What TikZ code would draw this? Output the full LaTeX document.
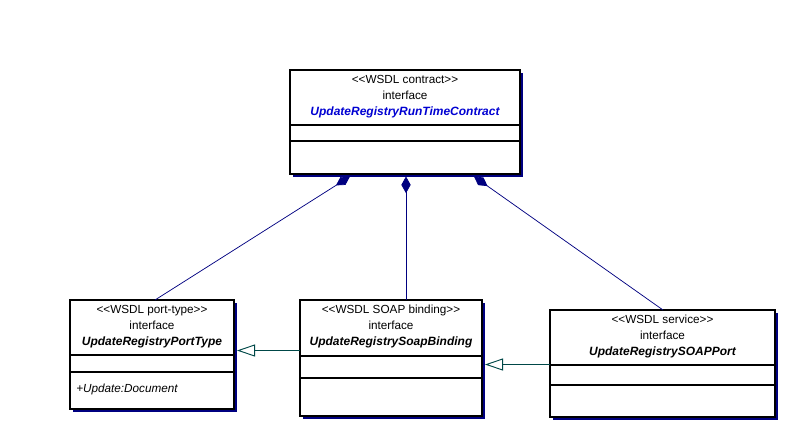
\documentclass[tikz,border=0pt]{standalone}
\usepackage{fontspec}
\setmainfont{Liberation Sans}
\usetikzlibrary{arrows.meta,shadows,calc}
\definecolor{umlnavy}{RGB}{0,0,128}
\definecolor{umlteal}{RGB}{0,72,72}
\definecolor{umlblue}{RGB}{0,0,210}

\begin{document}
\begin{tikzpicture}[x=0.75pt,y=-0.75pt,
  classbox/.style={draw=black, fill=white, line width=0.8pt, inner sep=0pt, outer sep=0pt,
    anchor=north west,
    drop shadow={shadow xshift=2pt, shadow yshift=-2pt, fill=umlnavy, opacity=1}},
  umltext/.style={font=\fontsize{8.8}{10}\selectfont, anchor=base, inner sep=0pt},
  classname/.style={umltext, font=\fontsize{9}{10}\selectfont\bfseries\itshape},
  member/.style={umltext, anchor=base west, font=\fontsize{8.8}{10}\selectfont\itshape},
  divider/.style={draw=black, line width=0.8pt},
  composition/.style={draw=umlnavy, line width=0.55pt,
    {Diamond[length=12.5pt, width=7pt, fill=umlnavy]}-},
  realizes/.style={draw=umlteal, line width=0.75pt,
    -{Triangle[open, length=13.5pt, width=9pt, fill=white, line width=0.7pt]}}
]
\useasboundingbox (0,0) rectangle (789,422);

% class boxes
\node[classbox, minimum width=172.5pt, minimum height=78pt] (contract) at (290,70) {};
\node[classbox, minimum width=123pt, minimum height=81.75pt] (porttype) at (70,300) {};
\node[classbox, minimum width=136.5pt, minimum height=87pt] (binding) at (300,300) {};
\node[classbox, minimum width=168.75pt, minimum height=80.25pt] (service) at (550,310) {};

% compartment separators
\draw[divider] ($(contract.north west)+(0,55)$) -- ($(contract.north east)+(0,55)$);
\draw[divider] ($(contract.north west)+(0,71)$) -- ($(contract.north east)+(0,71)$);
\draw[divider] ($(porttype.north west)+(0,55)$) -- ($(porttype.north east)+(0,55)$);
\draw[divider] ($(porttype.north west)+(0,72)$) -- ($(porttype.north east)+(0,72)$);
\draw[divider] ($(binding.north west)+(0,56)$) -- ($(binding.north east)+(0,56)$);
\draw[divider] ($(binding.north west)+(0,78)$) -- ($(binding.north east)+(0,78)$);
\draw[divider] ($(service.north west)+(0,55)$) -- ($(service.north east)+(0,55)$);
\draw[divider] ($(service.north west)+(0,75)$) -- ($(service.north east)+(0,75)$);

% class headings
\node[umltext] (contractst) at ($(contract.north)+(0,13)$) {<{}<WSDL contract>{}>};
\node[umltext] (contractkw) at ($(contract.north)+(0,29.5)$) {interface};
\node[classname, text=umlblue] (contractnm) at ($(contract.north)+(0,45.5)$) {UpdateRegistryRunTimeContract};

\node[umltext] (porttypest) at ($(porttype.north)+(0,13.5)$) {<{}<WSDL port-type>{}>};
\node[umltext] (porttypekw) at ($(porttype.north)+(0,29.5)$) {interface};
\node[classname] (porttypenm) at ($(porttype.north)+(0,45.5)$) {UpdateRegistryPortType};
\node[member] (porttypeop) at ($(porttype.north west)+(6,92)$) {+Update:Document};

\node[umltext] (bindingst) at ($(binding.north)+(0,13.5)$) {<{}<WSDL SOAP binding>{}>};
\node[umltext] (bindingkw) at ($(binding.north)+(0,29.5)$) {interface};
\node[classname] (bindingnm) at ($(binding.north)+(0,45.5)$) {UpdateRegistrySoapBinding};

\node[umltext] (servicest) at ($(service.north)+(0,13.5)$) {<{}<WSDL service>{}>};
\node[umltext] (servicekw) at ($(service.north)+(0,29.5)$) {interface};
\node[classname] (servicenm) at ($(service.north)+(0,45.5)$) {UpdateRegistrySOAPPort};

% compositions of the contract
\draw[composition] ($(contract.south west)+(60,2.5)$) -- ($(porttype.north west)+(85,0)$);
\draw[composition] ($(contract.south west)+(116,2.5)$) -- ($(binding.north west)+(106,0)$);
\draw[composition] ($(contract.south west)+(184,2.5)$) -- ($(service.north west)+(113,0)$);

% realizations
\draw[realizes] ($(binding.north west)+(0,50.5)$) -- ($(porttype.north east)+(3,50.5)$);
\draw[realizes] ($(service.north west)+(0,54.5)$) -- ($(binding.north east)+(3,64.5)$);
\end{tikzpicture}
\end{document}
